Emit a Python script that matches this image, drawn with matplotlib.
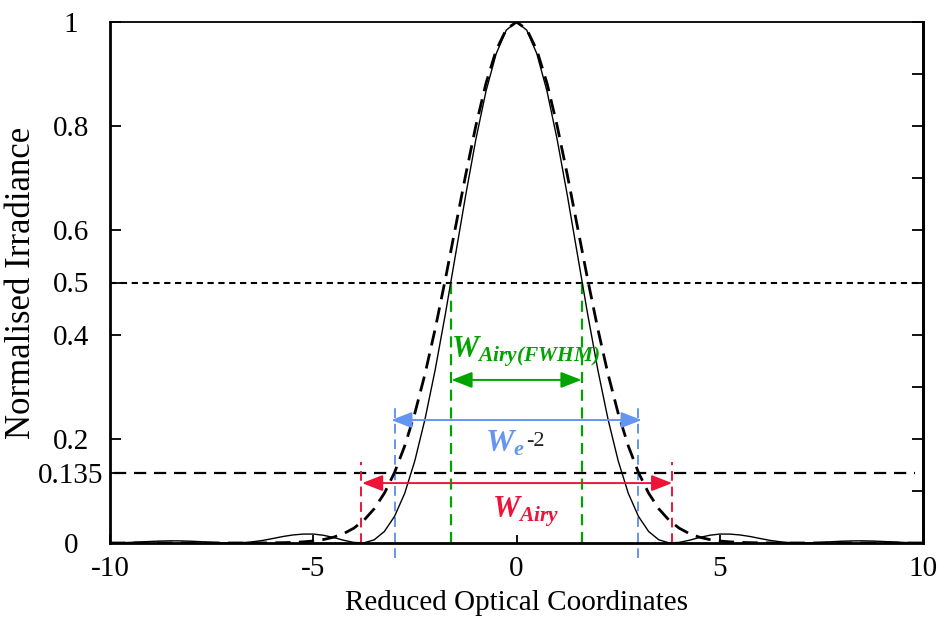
import matplotlib
matplotlib.use("Agg")
import matplotlib.pyplot as plt
import numpy as np

# ---------------- data ----------------
x_vals = [-10.0 + 0.25 * i for i in range(81)]

airy_vals = [
    0.00008, 0.00044, 0.00115, 0.00206, 0.00297, 0.00377, 0.00413, 0.00399, 0.00344, 0.00244,
    0.00130, 0.00038, 0.00000, 0.00053, 0.00224, 0.00484, 0.00851, 0.01242, 0.01542, 0.01710,
    0.01717, 0.01482, 0.01055, 0.00523, 0.00109, 0.00029, 0.00616, 0.02214, 0.05109, 0.09540,
    0.15814, 0.23809, 0.33261, 0.43954, 0.55342, 0.66748, 0.77458, 0.86734, 0.93912, 0.98454,
    1.00000,
    0.98454, 0.93912, 0.86734, 0.77458, 0.66748, 0.55342, 0.43954, 0.33261, 0.23809, 0.15814,
    0.09540, 0.05109, 0.02214, 0.00616, 0.00029, 0.00109, 0.00523, 0.01055, 0.01482, 0.01717,
    0.01710, 0.01542, 0.01242, 0.00851, 0.00484, 0.00224, 0.00053, 0.00000, 0.00038, 0.00130,
    0.00244, 0.00344, 0.00399, 0.00413, 0.00377, 0.00297, 0.00206, 0.00115, 0.00044, 0.00008,
]

gauss_vals = [
    0, 0, 0, 0, 0, 0, 0, 0, 0, 0,
    0, 0.00001, 0.00002, 0.00004, 0.00008, 0.00017, 0.00034, 0.00064, 0.00120, 0.00219,
    0.00387, 0.00665, 0.01111, 0.01807, 0.02857, 0.04394, 0.06571, 0.09563, 0.13534, 0.18628,
    0.24935, 0.32465, 0.41111, 0.50633, 0.60653, 0.70670, 0.80074, 0.88250, 0.94596, 0.98621,
    1.00000,
    0.98621, 0.94596, 0.88250, 0.80074, 0.70670, 0.60653, 0.50633, 0.41111, 0.32465, 0.24935,
    0.18628, 0.13534, 0.09563, 0.06571, 0.04394, 0.02857, 0.01807, 0.01111, 0.00665, 0.00387,
    0.00219, 0.00120, 0.00064, 0.00034, 0.00017, 0.00008, 0.00004, 0.00002, 0.00001, 0,
    0, 0, 0, 0, 0, 0, 0, 0, 0, 0,
]

levels = [0.5, 0.135]
fwhm_x = [-1.6, 1.6]
e2_x = [-3.0, 3.0]
airy_x = [-3.83, 3.83]

x_ticks = [-10, -5, 0, 5, 10]
x_ticklabels = ["-10", "-5", "0", "5", "10"]
y_ticks = [0, 0.135, 0.2, 0.4, 0.5, 0.6, 0.8, 1]
y_ticklabels = ["0", "0.135", "0.2", "0.4", "0.5", "0.6", "0.8", "1"]
right_ticks = [0.1 * i for i in range(11)]

GREEN = "#00a300"
BLUE = "#6495f0"
RED = "#ee1438"

plt.rcParams["font.family"] = ["Liberation Serif", "DejaVu Serif"]
plt.rcParams["mathtext.fontset"] = "custom"
plt.rcParams["mathtext.rm"] = "Liberation Serif"
plt.rcParams["mathtext.it"] = "Liberation Serif:italic"
plt.rcParams["mathtext.bf"] = "Liberation Serif:bold"
plt.rcParams["mathtext.bfit"] = "Liberation Serif:bold:italic"

fig = plt.figure(figsize=(9.42, 6.19), dpi=100)
ax = fig.add_axes([110 / 942, 76 / 619, 813 / 942, 521 / 619])

ax.plot(x_vals, airy_vals, color="black", lw=1.0, zorder=3)
ax.plot(x_vals, gauss_vals, color="black", lw=2.0, dashes=(5.5, 3), zorder=3)

ax.axhline(levels[0], color="black", lw=1.5, dashes=(3, 2.2))
ax.plot([-9.9, 9.8], [levels[1], levels[1]], color="black", lw=1.6, dashes=(5.5, 3.5))

ax.vlines(fwhm_x, 0, 0.5, colors=GREEN, lw=1.6, linestyles=(0, (5, 3)))
ax.vlines(e2_x, -0.029, 0.265, colors=BLUE, lw=1.4, linestyles=(0, (5, 3)), clip_on=False)
ax.vlines(airy_x, 0, 0.155, colors=RED, lw=1.4, linestyles=(0, (5, 3)))

arrow_kw = dict(arrowstyle="<|-|>,head_length=0.9,head_width=0.35", shrinkA=0, shrinkB=0,
                mutation_scale=14)
ax.annotate("", xy=(fwhm_x[1], 0.313), xytext=(fwhm_x[0], 0.313),
            arrowprops=dict(color=GREEN, lw=1.4, **arrow_kw))
ax.annotate("", xy=(e2_x[1] + 0.08, 0.236), xytext=(e2_x[0] - 0.08, 0.236),
            arrowprops=dict(color=BLUE, lw=1.4, **arrow_kw))
ax.annotate("", xy=(airy_x[1], 0.115), xytext=(airy_x[0] + 0.03, 0.115),
            arrowprops=dict(color=RED, lw=1.4, **arrow_kw))

ax.text(-1.62, 0.357, r"$\mathbfit{W}_{\mathbfit{Airy(FWHM)}}$", color=GREEN,
        fontsize=22, ha="left", va="baseline")
t = ax.text(-0.78, 0.175, r"$\mathbfit{W}_{\mathbfit{e}}$", color=BLUE,
            fontsize=23, ha="left", va="baseline")
ax.annotate("-2", xy=(1.0, 0.6), xycoords=t, xytext=(1, 0), textcoords="offset points",
            fontsize=16, color="#222222", ha="left", va="center")
ax.text(-0.6, 0.048, r"$\mathbfit{W}_{\mathbfit{Airy}}$", color=RED,
        fontsize=22, ha="left", va="baseline")

ax.set_xlim(-10, 10)
ax.set_ylim(0, 1)
ax.set_xticks(x_ticks)
ax.set_xticklabels(x_ticklabels)
ax.set_yticks(y_ticks)
ax.set_yticklabels(y_ticklabels, ha="center")
ax.tick_params(axis="both", direction="in", labelsize=21, width=1.3, color="black")
ax.tick_params(axis="x", length=6, pad=9, top=False)
ax.tick_params(axis="y", length=8, pad=28, right=False)

sec = ax.secondary_yaxis("right")
sec.set_yticks(right_ticks)
sec.set_yticklabels([])
sec.tick_params(direction="in", length=8, width=1.3)
sec.spines["right"].set_linewidth(2.0)

for s in ["left", "bottom", "right"]:
    ax.spines[s].set_linewidth(2.0)
ax.spines["top"].set_linewidth(1.3)

ax.set_xlabel("Reduced Optical Coordinates", fontsize=21, labelpad=6)
ax.set_ylabel("Normalised Irradiance", fontsize=25)
ax.yaxis.set_label_coords(-0.088, 0.5)

fig.savefig("out.png", dpi=100)
